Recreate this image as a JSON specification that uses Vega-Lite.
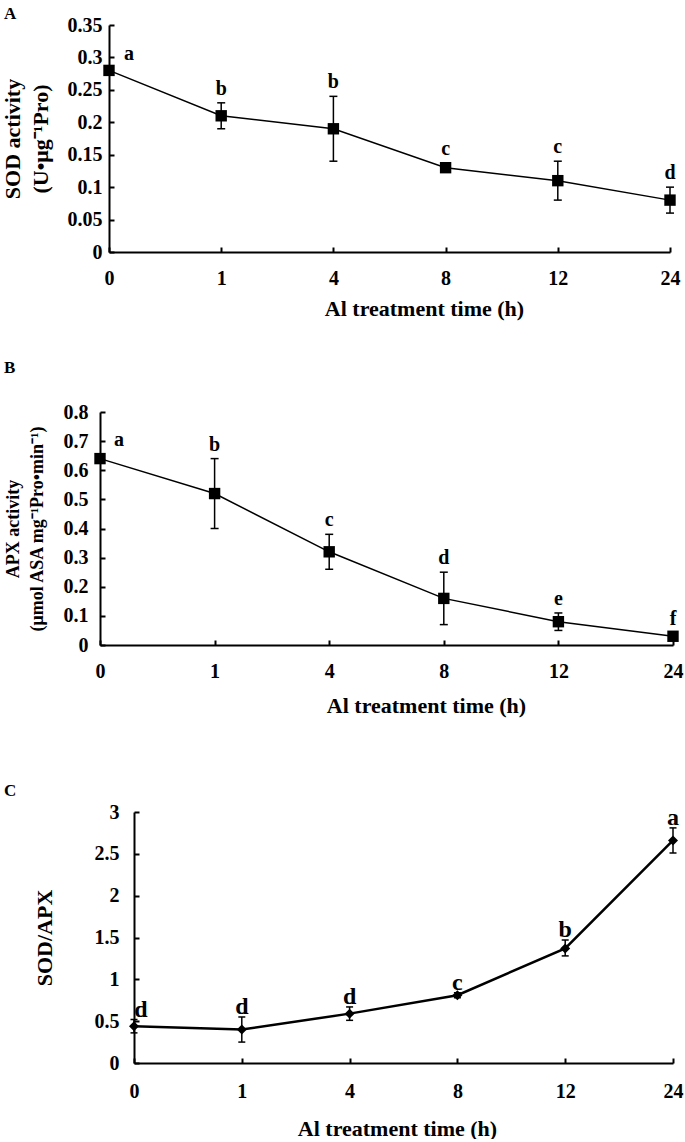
{
  "$schema": "https://vega.github.io/schema/vega-lite/v6.json",
  "background": "white",
  "padding": {"left": 1, "top": 5, "right": 5, "bottom": 0},
  "config": {
    "font": "Liberation Serif",
    "view": {"stroke": null},
    "axis": {
      "labelFont": "Liberation Serif", "labelFontWeight": "bold", "labelFontSize": 20, "labelColor": "black",
      "titleFont": "Liberation Serif", "titleFontWeight": "bold", "titleColor": "black", "titleFontSize": 22,
      "domainColor": "black", "domainWidth": 2, "grid": false,
      "labelOverlap": false, "titleLimit": 1000, "labelLimit": 1000
    },
    "axisX": {"labelAngle": 0, "labelPadding": 21, "titlePadding": 10},
    "axisY": {"labelPadding": 12}
  },
  "datasets": {
    "sod": [
      {"t": 0, "mean": 0.28, "lo": 0.275, "hi": 0.285, "letter": "a"},
      {"t": 1, "mean": 0.21, "lo": 0.19, "hi": 0.23, "letter": "b"},
      {"t": 4, "mean": 0.19, "lo": 0.14, "hi": 0.24, "letter": "b"},
      {"t": 8, "mean": 0.13, "lo": 0.123, "hi": 0.137, "letter": "c"},
      {"t": 12, "mean": 0.11, "lo": 0.08, "hi": 0.14, "letter": "c"},
      {"t": 24, "mean": 0.08, "lo": 0.06, "hi": 0.10, "letter": "d"}
    ],
    "apx": [
      {"t": 0, "mean": 0.64, "lo": 0.63, "hi": 0.65, "letter": "a"},
      {"t": 1, "mean": 0.52, "lo": 0.40, "hi": 0.64, "letter": "b"},
      {"t": 4, "mean": 0.32, "lo": 0.26, "hi": 0.38, "letter": "c"},
      {"t": 8, "mean": 0.16, "lo": 0.07, "hi": 0.25, "letter": "d"},
      {"t": 12, "mean": 0.08, "lo": 0.05, "hi": 0.11, "letter": "e"},
      {"t": 24, "mean": 0.03, "lo": 0.02, "hi": 0.04, "letter": "f"}
    ],
    "ratio": [
      {"t": 0, "mean": 0.44, "lo": 0.36, "hi": 0.52, "letter": "d"},
      {"t": 1, "mean": 0.40, "lo": 0.25, "hi": 0.55, "letter": "d"},
      {"t": 4, "mean": 0.59, "lo": 0.51, "hi": 0.67, "letter": "d"},
      {"t": 8, "mean": 0.81, "lo": 0.78, "hi": 0.84, "letter": "c"},
      {"t": 12, "mean": 1.37, "lo": 1.28, "hi": 1.47, "letter": "b"},
      {"t": 24, "mean": 2.66, "lo": 2.51, "hi": 2.81, "letter": "a"}
    ]
  },
  "spacing": 66,
  "vconcat": [
    {
      "spacing": 40,
      "vconcat": [
        {
          "title": {"text": "A", "dx": -96, "offset": -8, "fontSize": 17, "font": "Liberation Serif", "fontWeight": "bold", "anchor": "start", "frame": "group", "color": "black"},
          "width": 570,
          "height": 227,
          "data": {"name": "sod"},
          "encoding": {
            "x": {"field": "t", "type": "ordinal", "sort": [0, 1, 4, 8, 12, 24],
              "scale": {"type": "point", "range": [9, 570], "padding": 0},
              "axis": {"title": "Al treatment time (h)", "titleX": 324, "ticks": true, "tickSize": -5, "tickColor": "black", "tickWidth": 2, "labelPadding": 21}}
          },
          "layer": [
            {"mark": {"type": "line", "color": "black", "strokeWidth": 1.5},
             "encoding": {"y": {"field": "mean", "type": "quantitative", "title": ["SOD activity", "(U•μg⁻¹Pro)"], "scale": {"domain": [0, 0.35]},
               "axis": {"values": [0, 0.05, 0.1, 0.15, 0.2, 0.25, 0.3, 0.35], "format": "~g", "labelOverlap": false, "offset": -9, "ticks": true, "tickSize": -5, "tickColor": "black", "tickWidth": 2, "titlePadding": 15, "titleFontSize": 22, "titleLineHeight": 28}}}},
            {"mark": {"type": "rule", "strokeWidth": 1.5, "color": "black"},
             "encoding": {"y": {"field": "lo", "type": "quantitative", "title": ["SOD activity", "(U•μg⁻¹Pro)"], "scale": {"domain": [0, 0.35]},
               "axis": {"values": [0, 0.05, 0.1, 0.15, 0.2, 0.25, 0.3, 0.35], "format": "~g", "labelOverlap": false, "offset": -9, "ticks": true, "tickSize": -5, "tickColor": "black", "tickWidth": 2, "titlePadding": 15, "titleFontSize": 22, "titleLineHeight": 28}},
               "y2": {"field": "hi"}}},
            {"mark": {"type": "tick", "orient": "horizontal", "size": 8, "thickness": 1.5, "color": "black", "opacity": 1},
             "encoding": {"y": {"field": "lo", "type": "quantitative", "title": ["SOD activity", "(U•μg⁻¹Pro)"], "scale": {"domain": [0, 0.35]},
               "axis": {"values": [0, 0.05, 0.1, 0.15, 0.2, 0.25, 0.3, 0.35], "format": "~g", "labelOverlap": false, "offset": -9, "ticks": true, "tickSize": -5, "tickColor": "black", "tickWidth": 2, "titlePadding": 15, "titleFontSize": 22, "titleLineHeight": 28}}}},
            {"mark": {"type": "tick", "orient": "horizontal", "size": 8, "thickness": 1.5, "color": "black", "opacity": 1},
             "encoding": {"y": {"field": "hi", "type": "quantitative", "title": ["SOD activity", "(U•μg⁻¹Pro)"], "scale": {"domain": [0, 0.35]},
               "axis": {"values": [0, 0.05, 0.1, 0.15, 0.2, 0.25, 0.3, 0.35], "format": "~g", "labelOverlap": false, "offset": -9, "ticks": true, "tickSize": -5, "tickColor": "black", "tickWidth": 2, "titlePadding": 15, "titleFontSize": 22, "titleLineHeight": 28}}}},
            {"mark": {"type": "point", "shape": "square", "filled": true, "size": 130, "color": "black", "opacity": 1},
             "encoding": {"y": {"field": "mean", "type": "quantitative", "title": ["SOD activity", "(U•μg⁻¹Pro)"], "scale": {"domain": [0, 0.35]},
               "axis": {"values": [0, 0.05, 0.1, 0.15, 0.2, 0.25, 0.3, 0.35], "format": "~g", "labelOverlap": false, "offset": -9, "ticks": true, "tickSize": -5, "tickColor": "black", "tickWidth": 2, "titlePadding": 15, "titleFontSize": 22, "titleLineHeight": 28}}}},
            {"transform": [{"filter": "datum.t == 0"}],
             "mark": {"type": "text", "dx": 20, "dy": -7, "baseline": "alphabetic", "fontSize": 20, "fontWeight": "bold", "font": "Liberation Serif", "color": "black"},
             "encoding": {"y": {"field": "hi", "type": "quantitative", "title": ["SOD activity", "(U•μg⁻¹Pro)"], "scale": {"domain": [0, 0.35]},
               "axis": {"values": [0, 0.05, 0.1, 0.15, 0.2, 0.25, 0.3, 0.35], "format": "~g", "labelOverlap": false, "offset": -9, "ticks": true, "tickSize": -5, "tickColor": "black", "tickWidth": 2, "titlePadding": 15, "titleFontSize": 22, "titleLineHeight": 28}},
               "text": {"field": "letter"}}},
            {"transform": [{"filter": "datum.t != 0"}],
             "mark": {"type": "text", "dy": -8, "baseline": "alphabetic", "fontSize": 20, "fontWeight": "bold", "font": "Liberation Serif", "color": "black"},
             "encoding": {"y": {"field": "hi", "type": "quantitative", "title": ["SOD activity", "(U•μg⁻¹Pro)"], "scale": {"domain": [0, 0.35]},
               "axis": {"values": [0, 0.05, 0.1, 0.15, 0.2, 0.25, 0.3, 0.35], "format": "~g", "labelOverlap": false, "offset": -9, "ticks": true, "tickSize": -5, "tickColor": "black", "tickWidth": 2, "titlePadding": 15, "titleFontSize": 22, "titleLineHeight": 28}},
               "text": {"field": "letter"}}}
          ]
        },
        {
          "title": {"text": "B", "dx": -96, "offset": 25, "fontSize": 17, "font": "Liberation Serif", "fontWeight": "bold", "anchor": "start", "frame": "group", "color": "black"},
          "width": 573,
          "height": 233,
          "data": {"name": "apx"},
          "encoding": {
            "x": {"field": "t", "type": "ordinal", "sort": [0, 1, 4, 8, 12, 24],
              "scale": {"type": "point", "range": [0, 573], "padding": 0},
              "axis": {"title": "Al treatment time (h)", "titleX": 326, "titlePadding": 14, "ticks": true, "tickSize": -5, "tickColor": "black", "tickWidth": 2, "labelPadding": 21}}
          },
          "layer": [
            {"mark": {"type": "line", "color": "black", "strokeWidth": 1.5},
             "encoding": {"y": {"field": "mean", "type": "quantitative", "title": ["APX activity", "(μmol ASA mg⁻¹Pro•min⁻¹)"], "scale": {"domain": [0, 0.8]},
               "axis": {"values": [0, 0.1, 0.2, 0.3, 0.4, 0.5, 0.6, 0.7, 0.8], "format": "~g", "labelOverlap": false, "labelPadding": 17, "ticks": true, "tickSize": -5, "tickColor": "black", "tickWidth": 2, "titlePadding": 17, "titleFontSize": 18, "titleLineHeight": 24}}}},
            {"mark": {"type": "rule", "strokeWidth": 1.5, "color": "black"},
             "encoding": {"y": {"field": "lo", "type": "quantitative", "title": ["APX activity", "(μmol ASA mg⁻¹Pro•min⁻¹)"], "scale": {"domain": [0, 0.8]},
               "axis": {"values": [0, 0.1, 0.2, 0.3, 0.4, 0.5, 0.6, 0.7, 0.8], "format": "~g", "labelOverlap": false, "labelPadding": 17, "ticks": true, "tickSize": -5, "tickColor": "black", "tickWidth": 2, "titlePadding": 17, "titleFontSize": 18, "titleLineHeight": 24}},
               "y2": {"field": "hi"}}},
            {"mark": {"type": "tick", "orient": "horizontal", "size": 8, "thickness": 1.5, "color": "black", "opacity": 1},
             "encoding": {"y": {"field": "lo", "type": "quantitative", "title": ["APX activity", "(μmol ASA mg⁻¹Pro•min⁻¹)"], "scale": {"domain": [0, 0.8]},
               "axis": {"values": [0, 0.1, 0.2, 0.3, 0.4, 0.5, 0.6, 0.7, 0.8], "format": "~g", "labelOverlap": false, "labelPadding": 17, "ticks": true, "tickSize": -5, "tickColor": "black", "tickWidth": 2, "titlePadding": 17, "titleFontSize": 18, "titleLineHeight": 24}}}},
            {"mark": {"type": "tick", "orient": "horizontal", "size": 8, "thickness": 1.5, "color": "black", "opacity": 1},
             "encoding": {"y": {"field": "hi", "type": "quantitative", "title": ["APX activity", "(μmol ASA mg⁻¹Pro•min⁻¹)"], "scale": {"domain": [0, 0.8]},
               "axis": {"values": [0, 0.1, 0.2, 0.3, 0.4, 0.5, 0.6, 0.7, 0.8], "format": "~g", "labelOverlap": false, "labelPadding": 17, "ticks": true, "tickSize": -5, "tickColor": "black", "tickWidth": 2, "titlePadding": 17, "titleFontSize": 18, "titleLineHeight": 24}}}},
            {"mark": {"type": "point", "shape": "square", "filled": true, "size": 130, "color": "black", "opacity": 1},
             "encoding": {"y": {"field": "mean", "type": "quantitative", "title": ["APX activity", "(μmol ASA mg⁻¹Pro•min⁻¹)"], "scale": {"domain": [0, 0.8]},
               "axis": {"values": [0, 0.1, 0.2, 0.3, 0.4, 0.5, 0.6, 0.7, 0.8], "format": "~g", "labelOverlap": false, "labelPadding": 17, "ticks": true, "tickSize": -5, "tickColor": "black", "tickWidth": 2, "titlePadding": 17, "titleFontSize": 18, "titleLineHeight": 24}}}},
            {"transform": [{"filter": "datum.t == 0"}],
             "mark": {"type": "text", "dx": 19, "dy": -10, "baseline": "alphabetic", "fontSize": 20, "fontWeight": "bold", "font": "Liberation Serif", "color": "black"},
             "encoding": {"y": {"field": "hi", "type": "quantitative", "title": ["APX activity", "(μmol ASA mg⁻¹Pro•min⁻¹)"], "scale": {"domain": [0, 0.8]},
               "axis": {"values": [0, 0.1, 0.2, 0.3, 0.4, 0.5, 0.6, 0.7, 0.8], "format": "~g", "labelOverlap": false, "labelPadding": 17, "ticks": true, "tickSize": -5, "tickColor": "black", "tickWidth": 2, "titlePadding": 17, "titleFontSize": 18, "titleLineHeight": 24}},
               "text": {"field": "letter"}}},
            {"transform": [{"filter": "datum.t != 0"}],
             "mark": {"type": "text", "dy": -8, "baseline": "alphabetic", "fontSize": 20, "fontWeight": "bold", "font": "Liberation Serif", "color": "black"},
             "encoding": {"y": {"field": "hi", "type": "quantitative", "title": ["APX activity", "(μmol ASA mg⁻¹Pro•min⁻¹)"], "scale": {"domain": [0, 0.8]},
               "axis": {"values": [0, 0.1, 0.2, 0.3, 0.4, 0.5, 0.6, 0.7, 0.8], "format": "~g", "labelOverlap": false, "labelPadding": 17, "ticks": true, "tickSize": -5, "tickColor": "black", "tickWidth": 2, "titlePadding": 17, "titleFontSize": 18, "titleLineHeight": 24}},
               "text": {"field": "letter"}}}
          ]
        }
      ]
    },
    {
      "title": {"text": "C", "dx": -96, "offset": 2, "fontSize": 17, "font": "Liberation Serif", "fontWeight": "bold", "anchor": "start", "frame": "group", "color": "black"},
      "width": 573,
      "height": 251,
      "data": {"name": "ratio"},
      "encoding": {
        "x": {"field": "t", "type": "ordinal", "sort": [0, 1, 4, 8, 12, 24],
          "scale": {"type": "point", "range": [34, 573], "padding": 0},
          "axis": {"title": "Al treatment time (h)", "titleX": 297, "labelPadding": 23, "titlePadding": 17, "ticks": true, "tickSize": -5, "tickColor": "black", "tickWidth": 2}}
      },
      "layer": [
        {"mark": {"type": "line", "color": "black", "strokeWidth": 2.5},
         "encoding": {"y": {"field": "mean", "type": "quantitative", "title": "SOD/APX", "scale": {"domain": [0, 3]},
           "axis": {"values": [0, 0.5, 1, 1.5, 2, 2.5, 3], "format": "~g", "labelOverlap": false, "labelPadding": 20, "offset": -34, "ticks": true, "tickSize": -5, "tickColor": "black", "tickWidth": 2, "titlePadding": 38, "titleFontSize": 22}}}},
        {"mark": {"type": "rule", "strokeWidth": 1.5, "color": "black"},
         "encoding": {"y": {"field": "lo", "type": "quantitative", "title": "SOD/APX", "scale": {"domain": [0, 3]},
           "axis": {"values": [0, 0.5, 1, 1.5, 2, 2.5, 3], "format": "~g", "labelOverlap": false, "labelPadding": 20, "offset": -34, "ticks": true, "tickSize": -5, "tickColor": "black", "tickWidth": 2, "titlePadding": 38, "titleFontSize": 22}},
           "y2": {"field": "hi"}}},
        {"mark": {"type": "tick", "orient": "horizontal", "size": 7, "thickness": 1.5, "color": "black", "opacity": 1},
         "encoding": {"y": {"field": "lo", "type": "quantitative", "title": "SOD/APX", "scale": {"domain": [0, 3]},
           "axis": {"values": [0, 0.5, 1, 1.5, 2, 2.5, 3], "format": "~g", "labelOverlap": false, "labelPadding": 20, "offset": -34, "ticks": true, "tickSize": -5, "tickColor": "black", "tickWidth": 2, "titlePadding": 38, "titleFontSize": 22}}}},
        {"mark": {"type": "tick", "orient": "horizontal", "size": 7, "thickness": 1.5, "color": "black", "opacity": 1},
         "encoding": {"y": {"field": "hi", "type": "quantitative", "title": "SOD/APX", "scale": {"domain": [0, 3]},
           "axis": {"values": [0, 0.5, 1, 1.5, 2, 2.5, 3], "format": "~g", "labelOverlap": false, "labelPadding": 20, "offset": -34, "ticks": true, "tickSize": -5, "tickColor": "black", "tickWidth": 2, "titlePadding": 38, "titleFontSize": 22}}}},
        {"mark": {"type": "point", "shape": "diamond", "filled": true, "size": 100, "color": "black", "opacity": 1},
         "encoding": {"y": {"field": "mean", "type": "quantitative", "title": "SOD/APX", "scale": {"domain": [0, 3]},
           "axis": {"values": [0, 0.5, 1, 1.5, 2, 2.5, 3], "format": "~g", "labelOverlap": false, "labelPadding": 20, "offset": -34, "ticks": true, "tickSize": -5, "tickColor": "black", "tickWidth": 2, "titlePadding": 38, "titleFontSize": 22}}}},
        {"transform": [{"filter": "datum.t == 0"}],
         "mark": {"type": "text", "dx": 7, "dy": -2, "baseline": "alphabetic", "fontSize": 24, "fontWeight": "bold", "font": "Liberation Serif", "color": "black"},
         "encoding": {"y": {"field": "hi", "type": "quantitative", "title": "SOD/APX", "scale": {"domain": [0, 3]},
           "axis": {"values": [0, 0.5, 1, 1.5, 2, 2.5, 3], "format": "~g", "labelOverlap": false, "labelPadding": 20, "offset": -34, "ticks": true, "tickSize": -5, "tickColor": "black", "tickWidth": 2, "titlePadding": 38, "titleFontSize": 22}},
           "text": {"field": "letter"}}},
        {"transform": [{"filter": "datum.t != 0"}],
         "mark": {"type": "text", "dy": -3, "baseline": "alphabetic", "fontSize": 24, "fontWeight": "bold", "font": "Liberation Serif", "color": "black"},
         "encoding": {"y": {"field": "hi", "type": "quantitative", "title": "SOD/APX", "scale": {"domain": [0, 3]},
           "axis": {"values": [0, 0.5, 1, 1.5, 2, 2.5, 3], "format": "~g", "labelOverlap": false, "labelPadding": 20, "offset": -34, "ticks": true, "tickSize": -5, "tickColor": "black", "tickWidth": 2, "titlePadding": 38, "titleFontSize": 22}},
           "text": {"field": "letter"}}}
      ]
    }
  ]
}
